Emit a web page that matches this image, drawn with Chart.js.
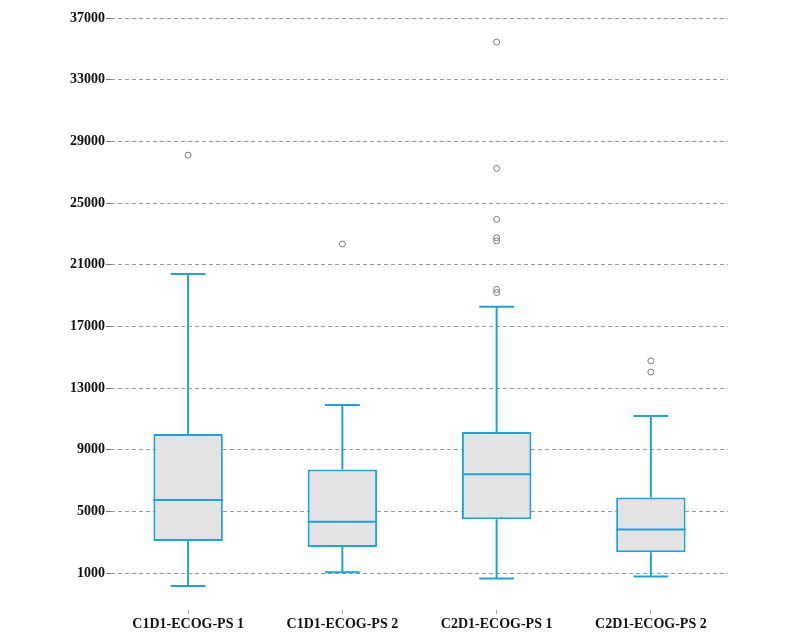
<!DOCTYPE html>
<html>
<head>
<meta charset="utf-8">
<script src="https://cdn.jsdelivr.net/npm/chart.js@4"></script>
<style>
  body { margin: 0; background: #fff; }
  #wrap { width: 800px; height: 637px; }
</style>
</head>
<body>
<div id="wrap"><canvas id="boxChart"></canvas></div>
<script>
// data
const categories = ['C1D1-ECOG-PS 1', 'C1D1-ECOG-PS 2', 'C2D1-ECOG-PS 1', 'C2D1-ECOG-PS 2'];
const whiskerLow = [170, 1060, 660, 790];
const q1 = [3080, 2690, 4500, 2350];
const median = [5740, 4330, 7420, 3840];
const q3 = [10020, 7730, 10150, 5910];
const whiskerHigh = [20400, 11900, 18280, 11190];
const outliers = [
  [28110],
  [22340],
  [35440, 27250, 23940, 22750, 22550, 19400, 19200],
  [14770, 14040]
];
const yTicks = [1000, 5000, 9000, 13000, 17000, 21000, 25000, 29000, 33000, 37000];

const boxColor = '#1ca3d9';
const fontSpec = { family: '"Liberation Serif", "Times New Roman", serif', size: 14, weight: 'bold' };

const outlierPoints = [];
outliers.forEach((list, i) => list.forEach(v => outlierPoints.push({ x: categories[i], y: v })));

// median line and whiskers, drawn through the chart's scales
const boxExtras = {
  id: 'boxExtras',
  beforeDatasetsDraw(chart) {
    const { ctx, scales: { x, y } } = chart;
    const meta = chart.getDatasetMeta(0);
    ctx.save();
    ctx.strokeStyle = boxColor;
    ctx.lineWidth = 2;
    categories.forEach((c, i) => {
      const cx = x.getPixelForValue(i);
      const w = meta.data[i].width;
      const cap = w * 0.5;
      ctx.beginPath();
      ctx.moveTo(cx, y.getPixelForValue(q3[i]));
      ctx.lineTo(cx, y.getPixelForValue(whiskerHigh[i]));
      ctx.moveTo(cx, y.getPixelForValue(q1[i]));
      ctx.lineTo(cx, y.getPixelForValue(whiskerLow[i]));
      ctx.moveTo(cx - cap / 2, y.getPixelForValue(whiskerHigh[i]));
      ctx.lineTo(cx + cap / 2, y.getPixelForValue(whiskerHigh[i]));
      ctx.moveTo(cx - cap / 2, y.getPixelForValue(whiskerLow[i]));
      ctx.lineTo(cx + cap / 2, y.getPixelForValue(whiskerLow[i]));
      ctx.stroke();
    });
    ctx.restore();
  },
  afterDatasetsDraw(chart) {
    const { ctx, scales: { x, y } } = chart;
    const meta = chart.getDatasetMeta(0);
    ctx.save();
    ctx.strokeStyle = boxColor;
    ctx.lineWidth = 2;
    categories.forEach((c, i) => {
      const cx = x.getPixelForValue(i);
      const w = meta.data[i].width;
      const my = y.getPixelForValue(median[i]);
      ctx.beginPath();
      ctx.moveTo(cx - w / 2, my);
      ctx.lineTo(cx + w / 2, my);
      ctx.stroke();
    });
    ctx.restore();
  }
};

const ctx = document.getElementById('boxChart').getContext('2d');
const boxChart = new Chart(ctx, {
  type: 'bar',
  data: {
    labels: categories,
    datasets: [
      {
        label: 'IQR',
        data: q1.map((v, i) => [v, q3[i]]),
        backgroundColor: '#e3e3e3',
        borderColor: boxColor,
        borderWidth: 2,
        borderSkipped: false,
        categoryPercentage: 1,
        barPercentage: 0.45,
        order: 2
      },
      {
        type: 'scatter',
        label: 'Outliers',
        data: outlierPoints,
        pointRadius: 3,
        pointBorderWidth: 1,
        pointBackgroundColor: 'rgba(0,0,0,0)',
        pointBorderColor: '#7a7a7a',
        order: 1
      }
    ]
  },
  options: {
    responsive: true,
    maintainAspectRatio: false,
    animation: false,
    layout: { padding: { top: 18, right: 72, bottom: 2, left: 0 } },
    plugins: {
      legend: { display: false },
      tooltip: { enabled: false }
    },
    scales: {
      x: {
        type: 'category',
        offset: true,
        border: { display: false },
        grid: { display: true, offset: false, drawOnChartArea: false, tickLength: 4, tickColor: '#aaa', tickWidth: 1 },
        ticks: { color: '#111', font: fontSpec, padding: 2 }
      },
      y: {
        min: -1400,
        max: 37000,
        border: { display: false, dash: [4, 3] },
        afterBuildTicks(scale) {
          scale.ticks = yTicks.map(v => ({ value: v }));
        },
        afterFit(scale) {
          scale.width = 111;
        },
        grid: {
          color: '#9a9a9a',
          lineWidth: 1,
          tickLength: 5,
          tickBorderDash: [],
          tickColor: '#777'
        },
        ticks: {
          color: '#111',
          font: fontSpec,
          padding: 1,
          callback: v => String(v)
        }
      }
    }
  },
  plugins: [boxExtras]
});
</script>
</body>
</html>
